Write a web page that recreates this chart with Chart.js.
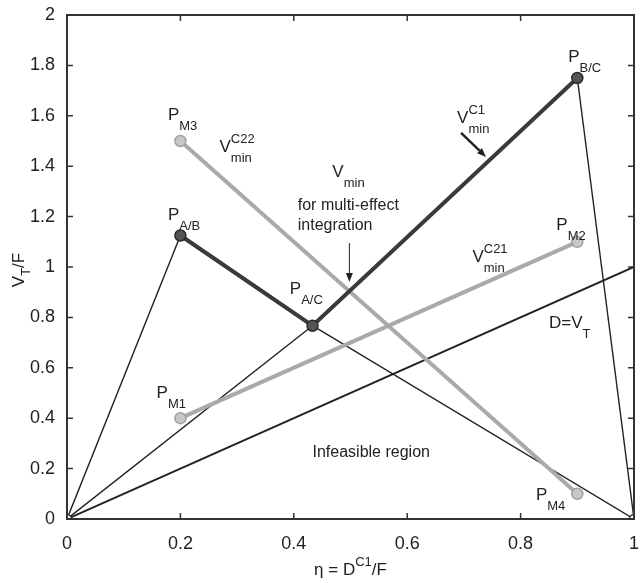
<!DOCTYPE html>
<html>
<head>
<meta charset="utf-8">
<script src="https://cdn.jsdelivr.net/npm/chart.js@4"></script>
<style>
  body { margin: 0; background: #fff; }
  canvas { display: block; }
</style>
</head>
<body>
<canvas id="chart" width="641" height="583"></canvas>
<script>
// tick labels
const xTicks = [0, 0.2, 0.4, 0.6, 0.8, 1];
const yTicks = [0, 0.2, 0.4, 0.6, 0.8, 1, 1.2, 1.4, 1.6, 1.8, 2];

// V_min^C1 path: P_A/B -> P_A/C -> P_B/C
const vminC1X = [0.2, 0.433, 0.9];
const vminC1Y = [1.125, 0.767, 1.75];

// V_min^C21: P_M1 -> P_M2
const vminC21X = [0.2, 0.9];
const vminC21Y = [0.4, 1.1];

// V_min^C22: P_M3 -> P_M4
const vminC22X = [0.2, 0.9];
const vminC22Y = [1.5, 0.1];

// D = V_T line
const dvtX = [0, 1];
const dvtY = [0, 1];

// thin boundary lines (pairs of points)
const boundX = [[0, 0.2], [0, 0.433], [0.433, 1], [0.9, 1]];
const boundY = [[0, 1.125], [0, 0.767], [0.767, 0], [1.75, 0]];

// open end points
const endX = [0, 1];
const endY = [0, 0];

function pts(xs, ys) {
  return xs.map((x, i) => ({ x: x, y: ys[i] }));
}

function line(xs, ys, color, width, order) {
  return {
    data: pts(xs, ys),
    showLine: true,
    borderColor: color,
    borderWidth: width,
    pointRadius: 0,
    order: order
  };
}

function markers(xs, ys, fill, edge, r, order) {
  return {
    data: pts(xs, ys),
    showLine: false,
    backgroundColor: fill,
    borderColor: edge,
    borderWidth: 1.5,
    pointRadius: r,
    order: order
  };
}

const datasets = [];
boundX.forEach((xs, i) => datasets.push(line(xs, boundY[i], '#222', 1.4, 5)));
datasets.push(line(dvtX, dvtY, '#222', 2, 5));
datasets.push(line(vminC21X, vminC21Y, '#aaaaaa', 4, 3));
datasets.push(line(vminC22X, vminC22Y, '#aaaaaa', 4, 3));
datasets.push(line(vminC1X, vminC1Y, '#3a3a3a', 4, 2));
datasets.push(markers(vminC21X, vminC21Y, '#c8c8c8', '#a0a0a0', 5.5, 1));
datasets.push(markers(vminC22X, vminC22Y, '#c8c8c8', '#a0a0a0', 5.5, 1));
datasets.push(markers(vminC1X, vminC1Y, '#555', '#2a2a2a', 5.5, 1));
datasets.push(markers(endX, endY, '#fff', '#333', 4.5, 0));

// text labels: [x, y, main, sub, sup]
const labels = [
  [0.178, 1.583, 'P', 'M3', ''],
  [0.269, 1.456, 'V', 'min', 'C22'],
  [0.178, 1.187, 'P', 'A/B', ''],
  [0.884, 1.813, 'P', 'B/C', ''],
  [0.688, 1.571, 'V', 'min', 'C1'],
  [0.393, 0.893, 'P', 'A/C', ''],
  [0.715, 1.020, 'V', 'min', 'C21'],
  [0.863, 1.147, 'P', 'M2', ''],
  [0.850, 0.758, 'D=V', 'T', ''],
  [0.158, 0.480, 'P', 'M1', ''],
  [0.827, 0.075, 'P', 'M4', ''],
  [0.468, 1.357, 'V', 'min', '']
];
const plainLabels = [
  [0.407, 1.226, 'for multi-effect'],
  [0.407, 1.147, 'integration'],
  [0.433, 0.246, 'Infeasible region']
];
// arrows: [x0, y0, x1, y1, width]
const arrows = [
  [0.498, 1.095, 0.498, 0.940, 1],
  [0.695, 1.532, 0.739, 1.437, 2.5]
];

const FONT = '"Liberation Sans", Arial, sans-serif';

function rich(ctx, x, y, main, sub, sup, big, small) {
  ctx.font = big + 'px ' + FONT;
  ctx.fillText(main, x, y);
  const w = ctx.measureText(main).width;
  ctx.font = small + 'px ' + FONT;
  if (sup) ctx.fillText(sup, x + w, y - 9);
  if (sub) ctx.fillText(sub, x + w, y + 10);
}

const annotate = {
  id: 'annotate',
  afterDatasetsDraw(chart) {
    const ctx = chart.ctx;
    const xs = chart.scales.x, ys = chart.scales.y;
    const a = chart.chartArea;
    ctx.save();
    ctx.fillStyle = '#222';
    ctx.textAlign = 'left';
    ctx.textBaseline = 'alphabetic';
    labels.forEach(l => {
      rich(ctx, xs.getPixelForValue(l[0]), ys.getPixelForValue(l[1]), l[2], l[3], l[4], 17, 13);
    });
    ctx.font = '16px ' + FONT;
    plainLabels.forEach(l => {
      ctx.fillText(l[2], xs.getPixelForValue(l[0]), ys.getPixelForValue(l[1]));
    });
    arrows.forEach(r => {
      const x0 = xs.getPixelForValue(r[0]), y0 = ys.getPixelForValue(r[1]);
      const x1 = xs.getPixelForValue(r[2]), y1 = ys.getPixelForValue(r[3]);
      const ang = Math.atan2(y1 - y0, x1 - x0);
      const hl = 9, hw = 3.5;
      ctx.strokeStyle = '#222';
      ctx.lineWidth = r[4];
      ctx.beginPath();
      ctx.moveTo(x0, y0);
      ctx.lineTo(x1 - hl * Math.cos(ang), y1 - hl * Math.sin(ang));
      ctx.stroke();
      ctx.beginPath();
      ctx.moveTo(x1, y1);
      ctx.lineTo(x1 - hl * Math.cos(ang) + hw * Math.sin(ang), y1 - hl * Math.sin(ang) - hw * Math.cos(ang));
      ctx.lineTo(x1 - hl * Math.cos(ang) - hw * Math.sin(ang), y1 - hl * Math.sin(ang) + hw * Math.cos(ang));
      ctx.closePath();
      ctx.fill();
    });

    // box with inward ticks
    ctx.strokeStyle = '#333';
    ctx.lineWidth = 2;
    ctx.strokeRect(a.left, a.top, a.right - a.left, a.bottom - a.top);
    ctx.lineWidth = 1.5;
    ctx.beginPath();
    xTicks.forEach(v => {
      const px = xs.getPixelForValue(v);
      ctx.moveTo(px, a.bottom); ctx.lineTo(px, a.bottom - 6);
      ctx.moveTo(px, a.top); ctx.lineTo(px, a.top + 6);
    });
    yTicks.forEach(v => {
      const py = ys.getPixelForValue(v);
      ctx.moveTo(a.left, py); ctx.lineTo(a.left + 6, py);
      ctx.moveTo(a.right, py); ctx.lineTo(a.right - 6, py);
    });
    ctx.stroke();

    // axis titles
    ctx.fillStyle = '#222';
    const t1 = 'η = D', t2 = 'C1', t3 = '/F';
    ctx.font = '17px ' + FONT;
    const w1 = ctx.measureText(t1).width, w3 = ctx.measureText(t3).width;
    ctx.font = '13px ' + FONT;
    const w2 = ctx.measureText(t2).width;
    let tx = (a.left + a.right) / 2 - (w1 + w2 + w3) / 2;
    ctx.font = '17px ' + FONT;
    ctx.fillText(t1, tx, 575);
    ctx.font = '13px ' + FONT;
    ctx.fillText(t2, tx + w1, 566);
    ctx.font = '17px ' + FONT;
    ctx.fillText(t3, tx + w1 + w2, 575);

    ctx.translate(24, 270);
    ctx.rotate(-Math.PI / 2);
    ctx.font = '17px ' + FONT;
    const v1 = ctx.measureText('V').width;
    ctx.font = '13px ' + FONT;
    const v2 = ctx.measureText('T').width;
    ctx.font = '17px ' + FONT;
    const v3 = ctx.measureText('/F').width;
    let sx = -(v1 + v2 + v3) / 2;
    ctx.fillText('V', sx, 0);
    ctx.font = '13px ' + FONT;
    ctx.fillText('T', sx + v1, 6);
    ctx.font = '17px ' + FONT;
    ctx.fillText('/F', sx + v1 + v2, 0);
    ctx.restore();
  }
};

new Chart(document.getElementById('chart').getContext('2d'), {
  type: 'scatter',
  data: { datasets: datasets },
  options: {
    responsive: false,
    animation: false,
    devicePixelRatio: 1,
    layout: { padding: { left: 0, right: 6, top: 15, bottom: 0 } },
    plugins: { legend: { display: false }, tooltip: { enabled: false } },
    scales: {
      x: {
        type: 'linear', min: 0, max: 1,
        afterBuildTicks: s => { s.ticks = xTicks.map(v => ({ value: v })); },
        afterFit: s => { s.height = 64; s.paddingLeft = 0; s.paddingRight = 0; },
        grid: { display: false },
        border: { display: false },
        ticks: {
          color: '#222', padding: 6, maxRotation: 0, autoSkip: false,
          font: { family: FONT, size: 18 },
          callback: v => String(v)
        }
      },
      y: {
        type: 'linear', min: 0, max: 2,
        afterBuildTicks: s => { s.ticks = yTicks.map(v => ({ value: v })); },
        afterFit: s => { s.width = 67; s.paddingTop = 0; s.paddingBottom = 0; },
        grid: { display: false },
        border: { display: false },
        ticks: {
          color: '#222', padding: 4, autoSkip: false,
          font: { family: FONT, size: 18 },
          callback: v => String(v)
        }
      }
    }
  },
  plugins: [annotate]
});
</script>
</body>
</html>
